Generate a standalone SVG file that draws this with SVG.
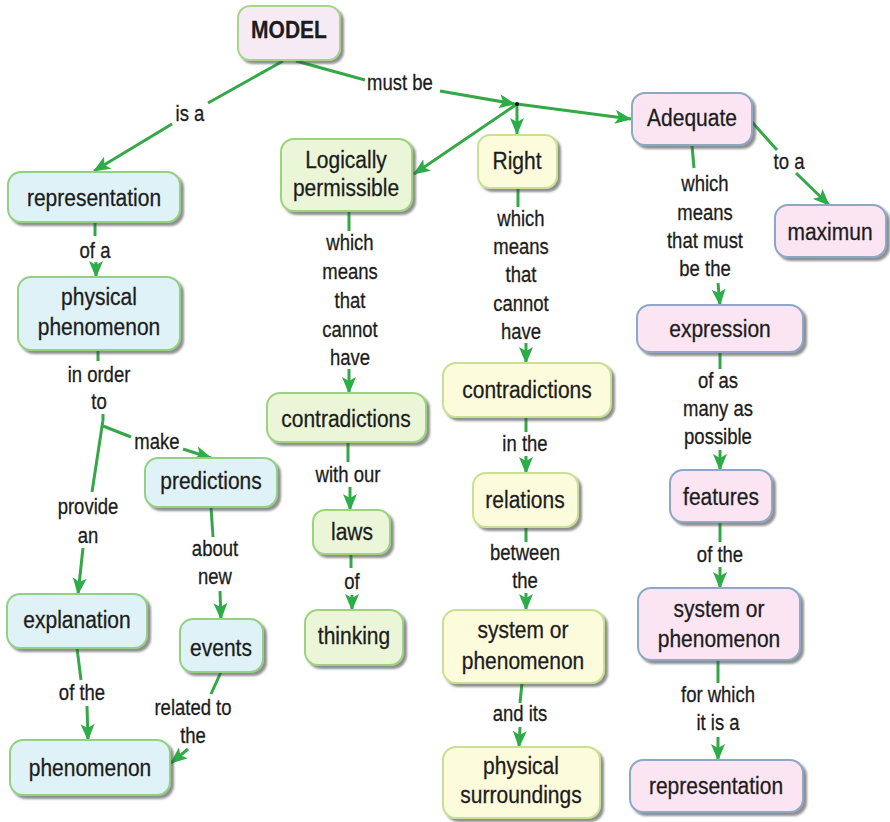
<svg xmlns="http://www.w3.org/2000/svg" width="890" height="822" viewBox="0 0 890 822">
  <defs>
    <filter id="shadow" x="-10%" y="-10%" width="125%" height="135%">
      <feDropShadow dx="3" dy="3" stdDeviation="1.2" flood-color="#444" flood-opacity="0.6"/>
    </filter>
    <marker id="arrow" markerUnits="userSpaceOnUse" markerWidth="17" markerHeight="14" refX="16" refY="7" orient="auto">
      <path d="M0,0 L17,7 L0,14 L4,7 Z" fill="#2cad48"/>
    </marker>
  </defs>
  <style>
    .node rect { stroke-width: 2; filter: url(#shadow); }
    .blue rect { fill: #dff2f8; stroke: #93d083; }
    .green rect { fill: #ebf6d8; stroke: #9dd27f; }
    .yellow rect { fill: #fcfbdb; stroke: #c8e094; }
    .pink rect { fill: #fbe5f3; stroke: #8ea7c6; }
    .root rect { fill: #f6eaf5; stroke: #a6d48b; }
    .node text { font-family: "Liberation Sans", Arial, sans-serif; font-size: 21px; fill: #1c1c1c; stroke: #1c1c1c; stroke-width: 0.25; text-anchor: middle;
                 transform-box: fill-box; transform-origin: center; transform: scaleY(1.1); }
    .root text { font-weight: bold; }
    .label { font-family: "Liberation Sans", Arial, sans-serif; font-size: 18.5px; fill: #1c1c1c; stroke: #1c1c1c; stroke-width: 0.25; text-anchor: middle;
             transform-box: fill-box; transform-origin: center; transform: scaleY(1.2); }
    .link line { stroke: #34a847; stroke-width: 3; fill: none; }
    .link .to { marker-end: url(#arrow); }
  </style>

  <rect width="890" height="822" fill="#ffffff"/>

  <!-- connectors -->
  <g id="connectors" class="link">
    <!-- MODEL is a representation -->
    <line x1="283" y1="61" x2="208" y2="103"/>
    <line class="to" x1="172" y1="124" x2="94" y2="171"/>
    <!-- MODEL must be ... -->
    <line x1="296" y1="61" x2="365" y2="80"/>
    <line class="to" x1="440" y1="91" x2="515" y2="104"/>
    <line class="to" x1="517" y1="104" x2="631" y2="119"/>
    <line class="to" x1="517" y1="104" x2="517" y2="134"/>
    <line class="to" x1="517" y1="104" x2="414" y2="174"/>
    <!-- Adequate to a maximun -->
    <line x1="752" y1="122" x2="777" y2="150"/>
    <line class="to" x1="796" y1="173" x2="829" y2="205"/>
    <!-- left column -->
    <line x1="95" y1="222" x2="95" y2="236"/>
    <line class="to" x1="96" y1="262" x2="96" y2="277"/>
    <line x1="98" y1="350" x2="98" y2="361"/>
    <line x1="103" y1="414" x2="103" y2="420"/>
    <line x1="103" y1="420" x2="92" y2="492"/>
    <line x1="103" y1="426" x2="131" y2="437"/>
    <line class="to" x1="183" y1="449" x2="211" y2="458"/>
    <line class="to" x1="83" y1="548" x2="78" y2="594"/>
    <line x1="77" y1="648" x2="81" y2="680"/>
    <line class="to" x1="87" y1="706" x2="88" y2="740"/>
    <line x1="211" y1="507" x2="213" y2="537"/>
    <line class="to" x1="220" y1="591" x2="221" y2="619"/>
    <line x1="221" y1="672" x2="211" y2="694"/>
    <line class="to" x1="188" y1="749" x2="171" y2="763"/>
    <!-- Logically permissible column -->
    <line x1="349" y1="211" x2="349" y2="231"/>
    <line class="to" x1="349" y1="369" x2="349" y2="393"/>
    <line x1="348" y1="442" x2="348" y2="462"/>
    <line class="to" x1="350" y1="487" x2="350" y2="510"/>
    <line x1="351" y1="554" x2="351" y2="568"/>
    <line class="to" x1="352" y1="595" x2="352" y2="610"/>
    <!-- Right column -->
    <line x1="518" y1="188" x2="518" y2="207"/>
    <line class="to" x1="526" y1="343" x2="526" y2="363"/>
    <line x1="526" y1="417" x2="526" y2="432"/>
    <line class="to" x1="526" y1="456" x2="526" y2="473"/>
    <line x1="526" y1="527" x2="526" y2="542"/>
    <line class="to" x1="526" y1="593" x2="526" y2="610"/>
    <line x1="522" y1="683" x2="520" y2="703"/>
    <line class="to" x1="520" y1="727" x2="519" y2="747"/>
    <!-- Adequate column -->
    <line x1="692" y1="145" x2="694" y2="168"/>
    <line class="to" x1="718" y1="283" x2="720" y2="305"/>
    <line x1="720" y1="352" x2="720" y2="369"/>
    <line class="to" x1="720" y1="450" x2="720" y2="470"/>
    <line x1="720" y1="522" x2="720" y2="542"/>
    <line class="to" x1="720" y1="567" x2="720" y2="588"/>
    <line x1="718" y1="660" x2="718" y2="683"/>
    <line class="to" x1="718" y1="737" x2="718" y2="760"/>
    <circle cx="517" cy="104" r="2" fill="#111"/>
  </g>

  <!-- linking phrases -->
  <g id="labels">
    <text class="label" x="190" y="120">is a</text>
    <text class="label" x="400" y="89">must be</text>
    <text class="label" x="789" y="168">to a</text>
    <text class="label" x="95" y="257">of a</text>
    <text class="label" x="99" y="381">in order</text>
    <text class="label" x="99" y="408">to</text>
    <text class="label" x="157" y="448">make</text>
    <text class="label" x="88" y="513">provide</text>
    <text class="label" x="88" y="542">an</text>
    <text class="label" x="82" y="699">of the</text>
    <text class="label" x="215" y="555">about</text>
    <text class="label" x="215" y="583">new</text>
    <text class="label" x="193" y="714">related to</text>
    <text class="label" x="193" y="742">the</text>
    <text class="label" x="350" y="249">which</text>
    <text class="label" x="350" y="278">means</text>
    <text class="label" x="350" y="307">that</text>
    <text class="label" x="350" y="336">cannot</text>
    <text class="label" x="350" y="364">have</text>
    <text class="label" x="348" y="481">with our</text>
    <text class="label" x="352" y="588">of</text>
    <text class="label" x="521" y="225">which</text>
    <text class="label" x="521" y="253">means</text>
    <text class="label" x="521" y="281">that</text>
    <text class="label" x="521" y="310">cannot</text>
    <text class="label" x="521" y="338">have</text>
    <text class="label" x="525" y="450">in the</text>
    <text class="label" x="525" y="559">between</text>
    <text class="label" x="525" y="587">the</text>
    <text class="label" x="520" y="720">and its</text>
    <text class="label" x="705" y="190">which</text>
    <text class="label" x="705" y="219">means</text>
    <text class="label" x="705" y="247">that must</text>
    <text class="label" x="705" y="275">be the</text>
    <text class="label" x="718" y="387">of as</text>
    <text class="label" x="718" y="415">many as</text>
    <text class="label" x="718" y="443">possible</text>
    <text class="label" x="720" y="561">of the</text>
    <text class="label" x="718" y="701">for which</text>
    <text class="label" x="718" y="729">it is a</text>
  </g>

  <!-- concepts -->
  <g id="model" class="node root">
    <rect x="238" y="6" width="102" height="54" rx="12"/>
    <text x="289" y="37">MODEL</text>
  </g>
  <g id="representation" class="node blue">
    <rect x="8" y="172" width="172" height="50" rx="13"/>
    <text x="94" y="205">representation</text>
  </g>
  <g id="physical-phenomenon" class="node blue">
    <rect x="18" y="277" width="162" height="73" rx="13"/>
    <text x="99" y="304">physical</text>
    <text x="99" y="334">phenomenon</text>
  </g>
  <g id="predictions" class="node blue">
    <rect x="145" y="458" width="132" height="49" rx="13"/>
    <text x="211" y="488">predictions</text>
  </g>
  <g id="explanation" class="node blue">
    <rect x="7" y="594" width="140" height="54" rx="13"/>
    <text x="77" y="627">explanation</text>
  </g>
  <g id="events" class="node blue">
    <rect x="180" y="619" width="83" height="53" rx="13"/>
    <text x="221" y="655">events</text>
  </g>
  <g id="phenomenon" class="node blue">
    <rect x="10" y="740" width="160" height="55" rx="13"/>
    <text x="90" y="775">phenomenon</text>
  </g>
  <g id="logically-permissible" class="node green">
    <rect x="281" y="139" width="131" height="72" rx="13"/>
    <text x="346" y="167">Logically</text>
    <text x="346" y="195">permissible</text>
  </g>
  <g id="contradictions-laws" class="node green">
    <rect x="267" y="393" width="159" height="49" rx="13"/>
    <text x="346" y="426">contradictions</text>
  </g>
  <g id="laws" class="node green">
    <rect x="313" y="510" width="77" height="44" rx="12"/>
    <text x="352" y="539">laws</text>
  </g>
  <g id="thinking" class="node green">
    <rect x="305" y="610" width="98" height="55" rx="13"/>
    <text x="354" y="643">thinking</text>
  </g>
  <g id="right" class="node yellow">
    <rect x="478" y="135" width="79" height="53" rx="12"/>
    <text x="517" y="168">Right</text>
  </g>
  <g id="contradictions-relations" class="node yellow">
    <rect x="443" y="363" width="168" height="54" rx="13"/>
    <text x="527" y="397">contradictions</text>
  </g>
  <g id="relations" class="node yellow">
    <rect x="473" y="473" width="105" height="54" rx="13"/>
    <text x="525" y="507">relations</text>
  </g>
  <g id="system-phenomenon-surroundings" class="node yellow">
    <rect x="443" y="610" width="161" height="73" rx="13"/>
    <text x="523" y="637">system or</text>
    <text x="523" y="668">phenomenon</text>
  </g>
  <g id="physical-surroundings" class="node yellow">
    <rect x="443" y="747" width="157" height="71" rx="13"/>
    <text x="521" y="773">physical</text>
    <text x="521" y="802">surroundings</text>
  </g>
  <g id="adequate" class="node pink">
    <rect x="632" y="93" width="120" height="52" rx="13"/>
    <text x="692" y="125">Adequate</text>
  </g>
  <g id="maximun" class="node pink">
    <rect x="775" y="205" width="111" height="52" rx="13"/>
    <text x="830" y="239">maximun</text>
  </g>
  <g id="expression" class="node pink">
    <rect x="637" y="305" width="166" height="47" rx="13"/>
    <text x="720" y="336">expression</text>
  </g>
  <g id="features" class="node pink">
    <rect x="670" y="470" width="102" height="52" rx="13"/>
    <text x="721" y="504">features</text>
  </g>
  <g id="system-phenomenon-represented" class="node pink">
    <rect x="638" y="588" width="162" height="72" rx="13"/>
    <text x="719" y="616">system or</text>
    <text x="719" y="646">phenomenon</text>
  </g>
  <g id="representation-of" class="node pink">
    <rect x="630" y="760" width="173" height="52" rx="13"/>
    <text x="716" y="793">representation</text>
  </g>
</svg>
